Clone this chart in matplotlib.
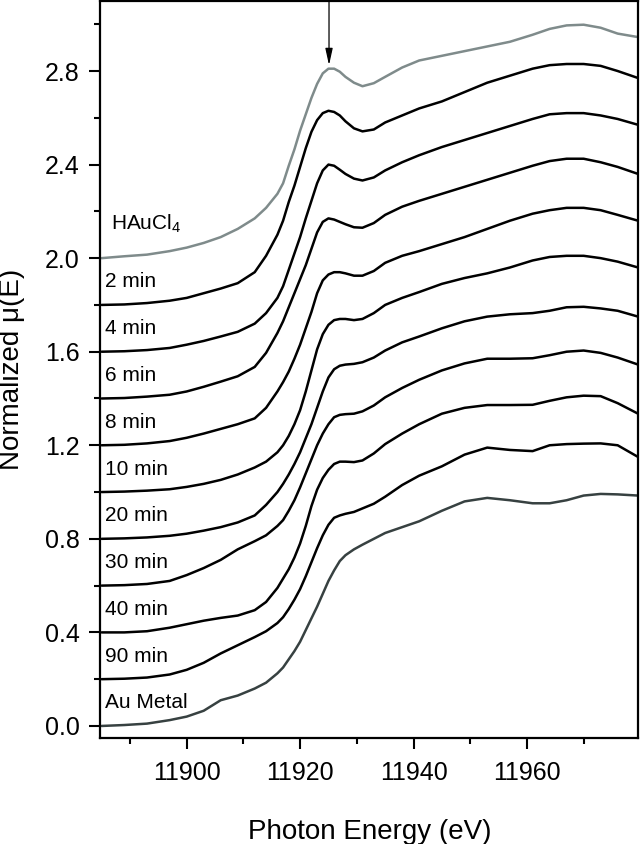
import numpy as np
import matplotlib
matplotlib.use("Agg")
import matplotlib.pyplot as plt
from matplotlib.ticker import MultipleLocator

plt.rcParams['font.family'] = ['Liberation Sans', 'DejaVu Sans']
plt.rcParams['mathtext.fontset'] = 'custom'
plt.rcParams['mathtext.rm'] = 'Liberation Sans'
plt.rcParams['mathtext.default'] = 'regular'

# ---------------------------------------------------------------
# Data (stacked with 0.2 offsets)
# ---------------------------------------------------------------
energy = [11885, 11889, 11893, 11897, 11900, 11903, 11906, 11909, 11912,
          11914, 11916, 11917, 11918, 11919, 11920, 11921, 11922, 11923,
          11924, 11925, 11926, 11927, 11928, 11929.5, 11931, 11933, 11935,
          11938, 11941, 11945, 11949, 11953, 11957, 11961, 11964, 11967,
          11970, 11973, 11976, 11979.6]

hauc14 = [2.00, 2.008, 2.015, 2.03, 2.045, 2.065, 2.09, 2.125, 2.17, 2.215,
          2.275, 2.32, 2.395, 2.465, 2.545, 2.615, 2.685, 2.745, 2.79, 2.81,
          2.81, 2.797, 2.775, 2.75, 2.735, 2.748, 2.775, 2.815, 2.845, 2.865,
          2.885, 2.905, 2.925, 2.955, 2.98, 2.995, 2.998, 2.985, 2.96, 2.945]
min2 = [1.80, 1.802, 1.808, 1.818, 1.83, 1.85, 1.87, 1.893, 1.94, 2.01,
        2.10, 2.16, 2.24, 2.31, 2.39, 2.47, 2.54, 2.59, 2.62, 2.63, 2.625,
        2.61, 2.585, 2.555, 2.542, 2.55, 2.58, 2.61, 2.64, 2.67, 2.71, 2.75,
        2.78, 2.81, 2.825, 2.83, 2.83, 2.822, 2.80, 2.77]
min4 = [1.60, 1.602, 1.607, 1.616, 1.63, 1.646, 1.665, 1.685, 1.72, 1.765,
        1.83, 1.88, 1.95, 2.02, 2.09, 2.17, 2.245, 2.32, 2.375, 2.40, 2.395,
        2.378, 2.36, 2.34, 2.332, 2.345, 2.375, 2.41, 2.44, 2.475, 2.505,
        2.535, 2.565, 2.595, 2.615, 2.62, 2.62, 2.61, 2.595, 2.57]
min6 = [1.40, 1.402, 1.408, 1.416, 1.43, 1.45, 1.472, 1.495, 1.535, 1.595,
        1.68, 1.73, 1.79, 1.85, 1.91, 1.97, 2.04, 2.11, 2.155, 2.17, 2.165,
        2.155, 2.145, 2.132, 2.13, 2.15, 2.185, 2.22, 2.245, 2.275, 2.305,
        2.335, 2.365, 2.395, 2.415, 2.425, 2.425, 2.41, 2.39, 2.36]
min8 = [1.20, 1.202, 1.208, 1.218, 1.232, 1.25, 1.27, 1.29, 1.315, 1.36,
        1.43, 1.47, 1.515, 1.57, 1.63, 1.70, 1.77, 1.85, 1.905, 1.93, 1.94,
        1.94, 1.935, 1.925, 1.925, 1.945, 1.98, 2.01, 2.03, 2.06, 2.09,
        2.125, 2.16, 2.19, 2.205, 2.215, 2.215, 2.205, 2.185, 2.16]
min10 = [1.00, 1.002, 1.006, 1.012, 1.022, 1.035, 1.052, 1.075, 1.105,
         1.13, 1.17, 1.20, 1.24, 1.29, 1.35, 1.43, 1.52, 1.61, 1.675, 1.715,
         1.735, 1.74, 1.74, 1.735, 1.74, 1.765, 1.80, 1.83, 1.855, 1.89,
         1.915, 1.935, 1.96, 1.99, 2.005, 2.01, 2.01, 2.0, 1.985, 1.96]
min20 = [0.80, 0.802, 0.806, 0.813, 0.822, 0.835, 0.85, 0.87, 0.90, 0.945,
         1.00, 1.035, 1.075, 1.12, 1.17, 1.23, 1.29, 1.36, 1.43, 1.49, 1.525,
         1.54, 1.545, 1.548, 1.555, 1.575, 1.605, 1.64, 1.665, 1.70, 1.73,
         1.75, 1.76, 1.765, 1.775, 1.79, 1.792, 1.785, 1.775, 1.75]
min30 = [0.60, 0.602, 0.607, 0.62, 0.645, 0.675, 0.71, 0.755, 0.79, 0.815,
         0.855, 0.88, 0.92, 0.965, 1.02, 1.08, 1.14, 1.20, 1.25, 1.29, 1.32,
         1.33, 1.333, 1.335, 1.345, 1.37, 1.405, 1.445, 1.48, 1.52, 1.55,
         1.57, 1.57, 1.572, 1.585, 1.60, 1.605, 1.595, 1.575, 1.545]
min40 = [0.40, 0.40, 0.405, 0.42, 0.435, 0.45, 0.462, 0.472, 0.495, 0.53,
         0.59, 0.63, 0.67, 0.72, 0.78, 0.855, 0.94, 1.01, 1.06, 1.095, 1.12,
         1.13, 1.13, 1.128, 1.135, 1.165, 1.205, 1.25, 1.29, 1.335, 1.36,
         1.372, 1.372, 1.373, 1.39, 1.405, 1.412, 1.41, 1.38, 1.335]
min90 = [0.20, 0.202, 0.207, 0.22, 0.24, 0.27, 0.31, 0.345, 0.38, 0.405,
         0.44, 0.465, 0.50, 0.54, 0.585, 0.64, 0.70, 0.76, 0.815, 0.86, 0.89,
         0.90, 0.907, 0.915, 0.93, 0.95, 0.98, 1.03, 1.07, 1.11, 1.16, 1.19,
         1.18, 1.175, 1.20, 1.205, 1.207, 1.208, 1.20, 1.15]
au_metal = [0.00, 0.004, 0.01, 0.025, 0.04, 0.065, 0.11, 0.13, 0.16, 0.185,
            0.225, 0.25, 0.285, 0.32, 0.36, 0.41, 0.46, 0.51, 0.565, 0.62,
            0.665, 0.705, 0.73, 0.755, 0.775, 0.80, 0.825, 0.85, 0.875, 0.92,
            0.96, 0.975, 0.965, 0.952, 0.952, 0.965, 0.985, 0.992, 0.99,
            0.985]

labels = ["HAuCl$_4$", "2 min", "4 min", "6 min", "8 min", "10 min",
          "20 min", "30 min", "40 min", "90 min", "Au Metal"]
offsets = [2.0, 1.8, 1.6, 1.4, 1.2, 1.0, 0.8, 0.6, 0.4, 0.2, 0.0]
series = [hauc14, min2, min4, min6, min8, min10, min20, min30, min40,
          min90, au_metal]
colors = ["#7f8b8b"] + ["black"] * 9 + ["#374141"]

# ---------------------------------------------------------------
# Figure
# ---------------------------------------------------------------
fig = plt.figure(figsize=(6.4, 8.44), dpi=100)
ax = fig.add_axes([0.157, 0.126, 0.84, 0.873])

for y, lab, off, c in zip(series, labels, offsets, colors):
    ax.plot(energy, y, color=c, lw=1.8, solid_joinstyle="round",
            solid_capstyle="round")
    if lab.startswith("HAu"):
        ax.text(11886.6, off + 0.12, lab, fontsize=15, va="baseline")
    else:
        ax.text(11885.6, off + 0.075, lab, fontsize=15, va="baseline")

# arrow marking the white line of HAuCl4
ax.annotate("", xy=(11925.1, 2.825), xytext=(11925.1, 3.12),
            arrowprops=dict(arrowstyle="-|>,head_length=1.0,head_width=0.22",
                            color="black", lw=0.9, shrinkA=0, shrinkB=0))

ax.set_xlim(11884.8, 11979.6)
ax.set_ylim(-0.05, 3.10)
ax.xaxis.set_major_locator(MultipleLocator(20))
ax.xaxis.set_minor_locator(MultipleLocator(10))
ax.yaxis.set_major_locator(MultipleLocator(0.4))
ax.yaxis.set_minor_locator(MultipleLocator(0.2))
ax.yaxis.set_major_formatter(plt.FormatStrFormatter("%.1f"))
ax.xaxis.set_major_formatter(plt.FormatStrFormatter("%d"))

ax.tick_params(which="both", direction="out", width=1.5, labelsize=18,
               top=False, right=False)
ax.tick_params(which="major", length=8)
ax.tick_params(which="minor", length=4)
ax.tick_params(axis="x", pad=9)
ax.tick_params(axis="y", pad=7)
for s in ax.spines.values():
    s.set_linewidth(1.6)

ax.set_xlabel("Photon Energy (eV)", fontsize=20, labelpad=24)
ax.set_ylabel("Normalized μ(E)", fontsize=20, labelpad=14)

fig.savefig("out.png", dpi=100)
